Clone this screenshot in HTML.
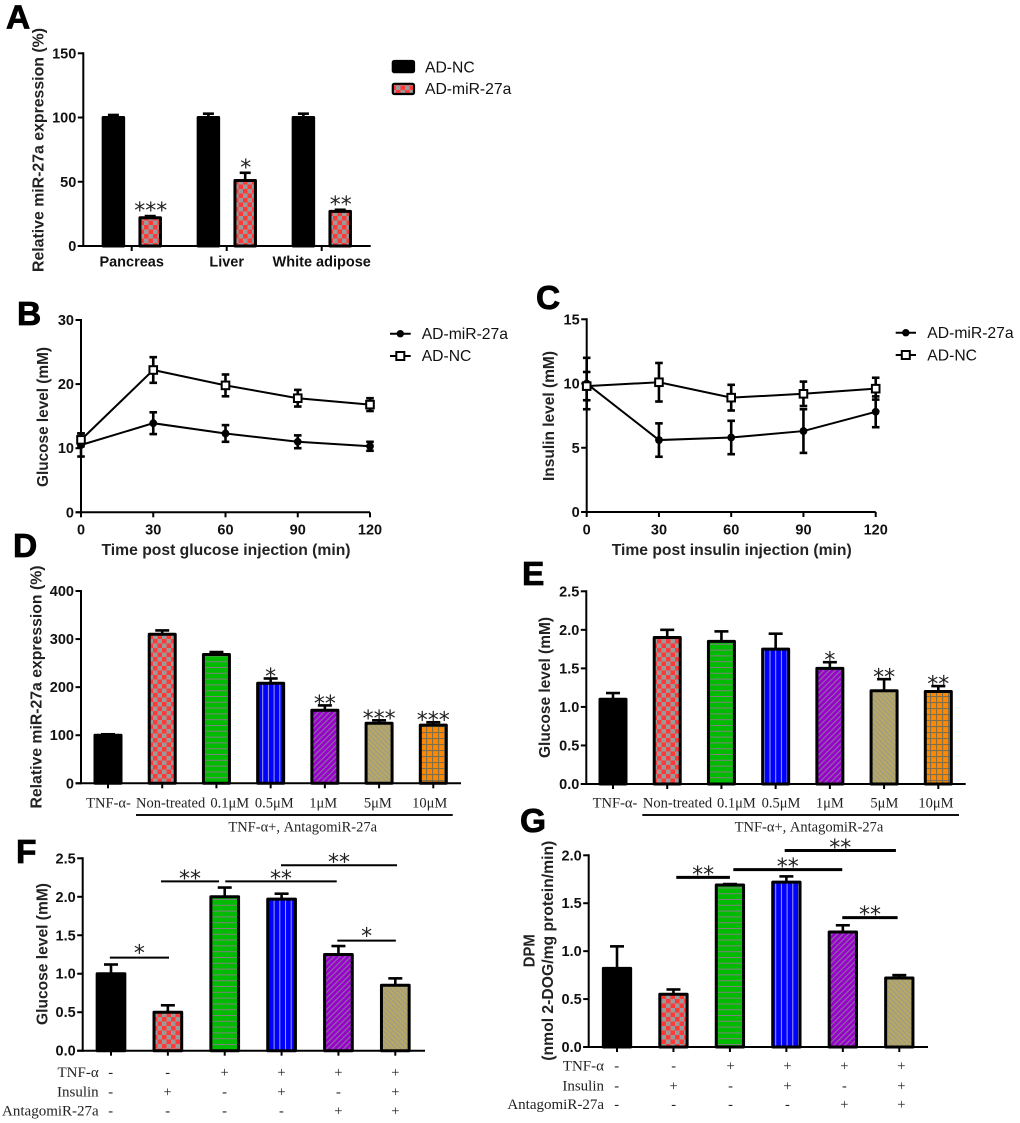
<!DOCTYPE html>
<html lang="en">
<head>
<meta charset="utf-8">
<title>miR-27a figure panels</title>
<style>
html,body{margin:0;padding:0;background:#fff;width:1020px;height:1123px;overflow:hidden}
svg{display:block;filter:blur(.3px)}
text{fill:#111}
.sans{font-family:"Liberation Sans",sans-serif}
.tick{font-family:"Liberation Sans",sans-serif;font-weight:700;font-size:14.5px}
.title{font-family:"Liberation Sans",sans-serif;font-weight:700;font-size:16px;fill:#222}
.legend{font-family:"Liberation Sans",sans-serif;font-size:15.7px}
.serif{font-family:"Liberation Serif",serif;font-size:14.5px;fill:#222}
.row{font-family:"Liberation Serif",serif;font-size:15px;fill:#222}
.letter{font-family:"Liberation Sans",sans-serif;font-weight:700;font-size:33.5px;fill:#000;stroke:#000;stroke-width:.8}
.star{font-family:"DejaVu Sans",sans-serif;font-size:22px;fill:#222}
</style>
</head>
<body>
<svg id="figure" xmlns="http://www.w3.org/2000/svg" width="1020" height="1123" viewBox="0 0 1020 1123">
<defs>
<pattern id="fill-check" patternUnits="userSpaceOnUse" width="9" height="9"><rect width="9" height="9" fill="#9a9a9a"/><rect width="4.5" height="4.5" fill="#ff3838"/><rect x="4.5" y="4.5" width="4.5" height="4.5" fill="#ff3838"/></pattern>
<pattern id="fill-green" patternUnits="userSpaceOnUse" width="6" height="5.8"><rect width="6" height="5.8" fill="#00bb00"/><rect y="0" width="6" height="1" fill="#808080"/></pattern>
<pattern id="fill-blue" patternUnits="userSpaceOnUse" width="5.7" height="6"><rect width="5.7" height="6" fill="#0000ff"/><rect width="1" height="6" fill="#a0a0e0"/></pattern>
<pattern id="fill-purple" patternUnits="userSpaceOnUse" width="4" height="4" patternTransform="rotate(45)"><rect width="4" height="4" fill="#9a00cc"/><rect width="1.2" height="4" fill="#8a6aa0"/></pattern>
<pattern id="fill-khaki" patternUnits="userSpaceOnUse" width="3.5" height="3.5" patternTransform="rotate(-45)"><rect width="3.5" height="3.5" fill="#b8a860"/><rect width="1.2" height="3.5" fill="#9a9a90"/></pattern>
<pattern id="fill-orange" patternUnits="userSpaceOnUse" width="6" height="6"><rect width="6" height="6" fill="#ff8800"/><rect width="1.1" height="6" fill="#7d7050"/><rect width="6" height="1.1" fill="#7d7050"/></pattern>
</defs>

<text class="letter" x="6" y="28.5">A</text>
<text class="letter" x="17" y="325">B</text>
<text class="letter" x="536" y="309">C</text>
<text class="letter" x="13" y="557">D</text>
<text class="letter" x="522" y="585">E</text>
<text class="letter" x="16" y="863">F</text>
<text class="letter" x="520" y="832">G</text>

<text class="title" transform="translate(43.5,150) rotate(-90)" text-anchor="middle" textLength="244" lengthAdjust="spacingAndGlyphs">Relative miR-27a expression (%)</text>
<text class="title" transform="translate(48,417) rotate(-90)" text-anchor="middle" textLength="140" lengthAdjust="spacingAndGlyphs">Glucose level (mM)</text>
<text class="title" transform="translate(554,416) rotate(-90)" text-anchor="middle" textLength="130" lengthAdjust="spacingAndGlyphs">Insulin level (mM)</text>
<text class="title" transform="translate(41.5,687) rotate(-90)" text-anchor="middle" textLength="243" lengthAdjust="spacingAndGlyphs">Relative miR-27a expression (%)</text>
<text class="title" transform="translate(550,687.5) rotate(-90)" text-anchor="middle" textLength="141" lengthAdjust="spacingAndGlyphs">Glucose level (mM)</text>
<text class="title" transform="translate(47.5,954) rotate(-90)" text-anchor="middle" textLength="142" lengthAdjust="spacingAndGlyphs">Glucose level (mM)</text>
<text class="title" transform="translate(534.5,950.7) rotate(-90)" text-anchor="middle" textLength="33" lengthAdjust="spacingAndGlyphs">DPM</text>
<text class="title" transform="translate(553,950.7) rotate(-90)" text-anchor="middle" textLength="220" lengthAdjust="spacingAndGlyphs">(nmol 2-DOG/mg protein/min)</text>

<text class="title" x="226" y="555" text-anchor="middle" textLength="249" lengthAdjust="spacingAndGlyphs">Time post glucose injection (min)</text>
<text class="title" x="731.7" y="555" text-anchor="middle" textLength="240" lengthAdjust="spacingAndGlyphs">Time post insulin injection (min)</text>

<g>
<rect x="392.8" y="61" width="21.2" height="11.2" rx="1.5" fill="#000" stroke="#000" stroke-width="2.2"/>
<text class="legend" x="425" y="72.5">AD-NC</text>
<rect x="392.8" y="83.8" width="21.2" height="10.2" rx="1.5" fill="url(#fill-check)" stroke="#000" stroke-width="2.2"/>
<text class="legend" x="425" y="94">AD-miR-27a</text>
</g>
<g>
<line x1="390" x2="410.7" y1="333.7" y2="333.7" stroke="#000" stroke-width="2"/>
<circle cx="400.3" cy="333.7" r="3.7" fill="#000"/>
<text class="legend" x="421.7" y="339">AD-miR-27a</text>
<line x1="390" x2="410.7" y1="356" y2="356" stroke="#000" stroke-width="2"/>
<rect x="396.3" y="352" width="8" height="8" fill="#fff" stroke="#000" stroke-width="2"/>
<text class="legend" x="421.7" y="361">AD-NC</text>
</g>
<g>
<line x1="895.7" x2="916" y1="332.7" y2="332.7" stroke="#000" stroke-width="2"/>
<circle cx="905.8" cy="332.7" r="3.7" fill="#000"/>
<text class="legend" x="927.3" y="338">AD-miR-27a</text>
<line x1="895.7" x2="916" y1="355" y2="355" stroke="#000" stroke-width="2"/>
<rect x="901.8" y="351" width="8" height="8" fill="#fff" stroke="#000" stroke-width="2"/>
<text class="legend" x="927.3" y="360.5">AD-NC</text>
</g>

<line x1="136" x2="452.7" y1="815" y2="815" stroke="#111" stroke-width="2"/>
<text class="serif" x="302.7" y="831.7" text-anchor="middle">TNF-α+, AntagomiR-27a</text>
<line x1="642.3" x2="959" y1="815" y2="815" stroke="#111" stroke-width="2"/>
<text class="serif" x="809" y="831.7" text-anchor="middle">TNF-α+, AntagomiR-27a</text>
</svg>

<script>
/* ---------- Panel A data ---------- */
const aCategories = ["Pancreas", "Liver", "White adipose"];
const aTicks = [0, 50, 100, 150];
const aNcValues = [100, 100, 100];
const aNcErrors = [2, 3, 3];
const aMirValues = [22, 51, 27];
const aMirErrors = [1.3, 6, 1.2];
const aMirStars = [3, 1, 2];

/* ---------- Panel B data ---------- */
const timeCategories = [0, 30, 60, 90, 120];
const bTicks = [0, 10, 20, 30];
const bMirValues = [10.5, 13.9, 12.3, 11, 10.3];
const bMirErrors = [1.8, 1.7, 1.3, 1, 0.7];
const bNcValues = [11.3, 22.2, 19.8, 17.8, 16.8];
const bNcErrors = [1, 2, 1.7, 1.3, 1];

/* ---------- Panel C data ---------- */
const cTicks = [0, 5, 10, 15];
const cMirValues = [10, 5.6, 5.8, 6.3, 7.8];
const cMirErrors = [2, 1.3, 1.3, 1.7, 1.2];
const cNcValues = [9.8, 10.1, 8.9, 9.2, 9.6];
const cNcErrors = [1.1, 1.5, 1, 0.95, 0.85];

/* ---------- Panel D data ---------- */
const doseCategories = ["TNF-α-", "Non-treated", "0.1μM", "0.5μM", "1μM", "5μM", "10μM"];
const dTicks = [0, 100, 200, 300, 400];
const dValues = [100, 310, 268, 208, 152, 125, 121];
const dErrors = [2, 8, 5, 10, 10, 6, 6];
const dStars = [0, 0, 0, 1, 2, 3, 3];

/* ---------- Panel E data ---------- */
const eTicks = [0, 0.5, 1, 1.5, 2, 2.5];
const eValues = [1.1, 1.9, 1.85, 1.75, 1.5, 1.21, 1.2];
const eErrors = [0.08, 0.1, 0.13, 0.2, 0.08, 0.15, 0.07];
const eStars = [0, 0, 0, 0, 1, 2, 2];

/* ---------- Panel F data ---------- */
const rowNames = ["TNF-α", "Insulin", "AntagomiR-27a"];
const tnfRow = ["-", "-", "+", "+", "+", "+"];
const insulinRow = ["-", "+", "-", "+", "-", "+"];
const antagomirRow = ["-", "-", "-", "-", "+", "+"];
const fTicks = [0, 0.5, 1, 1.5, 2, 2.5];
const fValues = [1, 0.5, 2, 1.97, 1.25, 0.85];
const fErrors = [0.12, 0.09, 0.12, 0.07, 0.11, 0.09];
const fBracketFrom = [-0.02, 0.88, 2.01, 2.99, 3.98];
const fBracketTo = [1.02, 1.9, 3.97, 5.03, 5.01];
const fBracketLevel = [1.21, 2.2, 2.2, 2.41, 1.43];
const fBracketStars = [1, 2, 2, 2, 1];

/* ---------- Panel G data ---------- */
const gTicks = [0, 0.5, 1, 1.5, 2];
const gValues = [0.82, 0.55, 1.69, 1.72, 1.2, 0.72];
const gErrors = [0.23, 0.05, 0.01, 0.06, 0.07, 0.03];
const gBracketFrom = [1.05, 2.06, 2.97, 3.99];
const gBracketTo = [2, 3.99, 4.94, 4.97];
const gBracketLevel = [1.77, 1.85, 2.05, 1.35];
const gBracketStars = [2, 2, 2, 2];

/* ---------- Drawing helpers ---------- */
const SVG_NS = "http://www.w3.org/2000/svg";
const figure = document.getElementById("figure");
const INK = "#000";
const barFills = ["#000", "url(#fill-check)", "url(#fill-green)", "url(#fill-blue)", "url(#fill-purple)", "url(#fill-khaki)", "url(#fill-orange)"];

function linear(d0, d1, r0, r1) {
  return function (v) { return r0 + (v - d0) * (r1 - r0) / (d1 - d0); };
}
function make(parent, tag, name, attrs, content) {
  const node = document.createElementNS(SVG_NS, tag);
  
  
  for (const key in attrs) { node.setAttribute(key, attrs[key]); }
  if (content !== undefined) { node.textContent = content; }
  parent.appendChild(node);
  return node;
}
function group(name) { return make(figure, "g", name, {}); }
function segment(parent, name, x1, y1, x2, y2, width, color) {
  return make(parent, "line", name, { x1: x1, y1: y1, x2: x2, y2: y2, stroke: color || INK, "stroke-width": width });
}
function stars(parent, name, x, y, count) {
  if (!count) { return; }
  make(parent, "text", name, { class: "star", x: x, y: y + 12.5, "text-anchor": "middle" }, "*".repeat(count));
}
function formatTick(value, decimals) { return value.toFixed(decimals); }

function yAxis(parent, ticks, y, axisX, decimals) {
  segment(parent, "y-axis-line", axisX, y(ticks[ticks.length - 1]) - 1, axisX, y(0) + 1, 2);
  ticks.forEach(function (t) {
    segment(parent, "y-tick", axisX - 5.5, y(t), axisX, y(t), 2);
    make(parent, "text", "y-tick-label", { class: "tick", x: axisX - 7, y: y(t) + 5, "text-anchor": "end" }, formatTick(t, decimals));
  });
}
function xAxisLine(parent, x0, x1, baseY) {
  segment(parent, "x-axis-line", x0, baseY, x1, baseY, 2);
}
function xTicks(parent, count, x, baseY) {
  for (let i = 0; i < count; i++) { segment(parent, "x-tick", x(i), baseY, x(i), baseY + 5, 2); }
}
function bar(parent, name, cx, value, error, y, outerWidth, capHalf, fill) {
  const topY = y(value), baseY = y(0), capY = y(value + error), w = outerWidth - 3;
  segment(parent, name + "-error-stem", cx, topY, cx, capY, 2.6);
  segment(parent, name + "-error-cap", cx - capHalf, capY, cx + capHalf, capY, 2.6);
  make(parent, "rect", name, { x: cx - w / 2, y: topY, width: w, height: baseY - topY, fill: fill, stroke: "#000", "stroke-width": 3, "stroke-linejoin": "round" });
  return capY;
}
function lineSeries(parent, name, values, errors, x, y, marker) {
  errors.forEach(function (e, i) {
    const px = x(timeCategories[i]);
    segment(parent, name + "-error-stem", px, y(values[i] - e), px, y(values[i] + e), 2.6);
    segment(parent, name + "-error-cap", px - 3.8, y(values[i] + e), px + 3.8, y(values[i] + e), 2.6);
    segment(parent, name + "-error-cap", px - 3.8, y(values[i] - e), px + 3.8, y(values[i] - e), 2.6);
  });
  const pts = values.map(function (v, i) { return x(timeCategories[i]) + "," + y(v); }).join(" ");
  make(parent, "polyline", name + "-line", { points: pts, fill: "none", stroke: "#000", "stroke-width": 2 });
  values.forEach(function (v, i) {
    const px = x(timeCategories[i]), py = y(v);
    if (marker === "circle") {
      make(parent, "circle", name + "-point", { cx: px, cy: py, r: 3.9, fill: "#000" });
    } else {
      make(parent, "rect", name + "-point", { x: px - 3.8, y: py - 3.8, width: 7.6, height: 7.6, fill: "#fff", stroke: "#000", "stroke-width": 2 });
    }
  });
}
function linePanel(name, ticks, mirVals, mirErrs, ncVals, ncErrs, axisX, endX, baseY, topY, labelY) {
  const g = group(name);
  const y = linear(0, ticks[ticks.length - 1], baseY, topY);
  const x = linear(timeCategories[0], timeCategories[timeCategories.length - 1], axisX, endX);
  yAxis(g, ticks, y, axisX, 0);
  xAxisLine(g, axisX - 5.5, endX, baseY);
  timeCategories.forEach(function (t) {
    segment(g, "x-tick", x(t), baseY, x(t), baseY + 5, 2);
    make(g, "text", "x-tick-label", { class: "tick", x: x(t), y: labelY, "text-anchor": "middle" }, String(t));
  });
  lineSeries(g, "series-ad-mir-27a", mirVals, mirErrs, x, y, "circle");
  lineSeries(g, "series-ad-nc", ncVals, ncErrs, x, y, "square");
}
function dosePanel(name, ticks, decimals, values, errors, starCounts, axisX, endX, baseY, topY, firstX, lastX, labelNudge) {
  const g = group(name);
  const y = linear(0, ticks[ticks.length - 1], baseY, topY);
  const x = linear(0, values.length - 1, firstX, lastX);
  yAxis(g, ticks, y, axisX, decimals);
  xAxisLine(g, axisX - 5.5, endX, baseY);
  xTicks(g, values.length, x, baseY);
  values.forEach(function (v, i) {
    const capY = bar(g, "bar-" + i, x(i), v, errors[i], y, 29, 7, barFills[i]);
    stars(g, "significance-stars", x(i), capY - 7, starCounts[i]);
    make(g, "text", "x-category-label", { class: "serif", x: x(i) + labelNudge[i], y: 807.3, "text-anchor": "middle" }, doseCategories[i]);
  });
}
function conditionPanel(name, ticks, values, errors, axisX, endX, baseY, topY, firstX, lastX, outerWidth, cfg) {
  const g = group(name);
  const y = linear(0, ticks[ticks.length - 1], baseY, topY);
  const x = linear(0, values.length - 1, firstX, lastX);
  yAxis(g, ticks, y, axisX, 1);
  xAxisLine(g, axisX - 5.5, endX, baseY);
  xTicks(g, values.length, x, baseY);
  values.forEach(function (v, i) {
    bar(g, "bar-" + i, x(i), v, errors[i], y, outerWidth, 7, barFills[i]);
  });
  cfg.from.forEach(function (f, i) {
    const by = y(cfg.level[i]);
    segment(g, "significance-bracket", x(f), by, x(cfg.to[i]), by, cfg.lineWidth);
    stars(g, "significance-stars", (x(f) + x(cfg.to[i])) / 2, by - (cfg.counts[i] === 1 ? 9.5 : 8), cfg.counts[i]);
  });
  const signX = linear(0, values.length - 1, cfg.signFirst, cfg.signLast);
  [tnfRow, insulinRow, antagomirRow].forEach(function (row, r) {
    make(g, "text", "row-label", { class: "row", x: cfg.rowRight, y: cfg.rowBase[r], "text-anchor": "end" }, rowNames[r]);
    row.forEach(function (sign, i) {
      make(g, "text", "row-sign", { class: "serif", x: signX(i), y: cfg.rowBase[r], "text-anchor": "middle" }, sign);
    });
  });
}

/* ---------- Panel A ---------- */
(function () {
  const g = group("panel-a-chart");
  const axisX = 83.3, baseY = 246;
  const y = linear(0, 150, baseY, 53.3);
  const x = linear(0, 2, 131.7, 321.7);
  yAxis(g, aTicks, y, axisX, 0);
  xAxisLine(g, 77.8, 370.7, baseY);
  xTicks(g, aCategories.length, x, baseY);
  aCategories.forEach(function (label, i) {
    bar(g, "bar-ad-nc-" + i, x(i) - 18.3, aNcValues[i], aNcErrors[i], y, 23.5, 5.5, "#000");
    const capY = bar(g, "bar-ad-mir-27a-" + i, x(i) + 18.5, aMirValues[i], aMirErrors[i], y, 23.5, 5.5, "url(#fill-check)");
    stars(g, "significance-stars", x(i) + 19, capY - 10.5, aMirStars[i]);
    make(g, "text", "x-category-label", { class: "tick", x: x(i), y: 266.7, "text-anchor": "middle" }, label);
  });
})();

/* ---------- Panels B and C ---------- */
linePanel("panel-b-chart", bTicks, bMirValues, bMirErrors, bNcValues, bNcErrors, 81, 370, 512.3, 320, 534.5);
linePanel("panel-c-chart", cTicks, cMirValues, cMirErrors, cNcValues, cNcErrors, 586.7, 875.7, 512, 319.3, 534.5);

/* ---------- Panels D and E ---------- */
dosePanel("panel-d-chart", dTicks, 0, dValues, dErrors, dStars, 81, 461, 783.3, 591, 108, 433.3, [0.5, 8.4, 13.3, 3.6, -1.7, -1.3, -3.6]);
dosePanel("panel-e-chart", eTicks, 1, eValues, eErrors, eStars, 586.3, 965.7, 784, 591.3, 613, 938.3, [2, 10.3, 15, 5.4, 0, 0.3, -2.3]);

/* ---------- Panels F and G ---------- */
conditionPanel("panel-f-chart", fTicks, fValues, fErrors, 82.7, 425, 1050.7, 858.3, 111, 395.3, 30.7, {
  from: fBracketFrom, to: fBracketTo, level: fBracketLevel, counts: fBracketStars, lineWidth: 2,
  signFirst: 110.7, signLast: 395.3, rowRight: 98.7, rowBase: [1077, 1096.7, 1115.7]
});
conditionPanel("panel-g-chart", gTicks, gValues, gErrors, 588.7, 928, 1047, 855.3, 617, 899.3, 30.3, {
  from: gBracketFrom, to: gBracketTo, level: gBracketLevel, counts: gBracketStars, lineWidth: 3,
  signFirst: 616.7, signLast: 901.3, rowRight: 604, rowBase: [1070.7, 1090.3, 1109]
});
</script>
</body>
</html>
